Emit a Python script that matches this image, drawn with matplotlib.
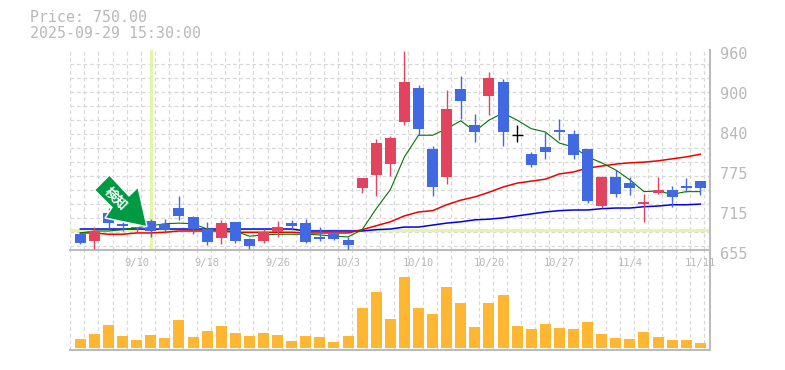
import matplotlib
matplotlib.use("Agg")
import matplotlib.pyplot as plt
from matplotlib.patches import Polygon
from matplotlib.transforms import ScaledTranslation, Affine2D

opens  = [680,669,712,695,688,699,695,719,705,687,673,698,672,669,682,696,696,675,679,670,750,769,786,850,902,809,766,901,846,890,911,830,801,812,838,832,809,722,766,757,725,742,747,753,760]
closes = [666,684,696,692,690,684,686,707,687,667,696,669,661,682,690,692,667,672,672,663,765,818,826,911,840,751,870,882,835,917,835,830,785,804,835,800,730,766,740,750,728,747,736,750,750]
highs  = [680,690,719,698,690,702,702,737,707,698,701,698,673,687,699,701,702,690,684,675,765,824,829,958,907,814,899,920,862,926,916,846,804,835,855,838,809,768,777,766,740,766,753,765,760]
lows   = [664,657,689,684,681,675,681,701,679,663,664,666,657,666,675,686,666,669,670,655,742,737,768,846,830,737,756,855,820,861,814,820,782,794,823,794,727,719,736,739,698,740,721,743,739]
ma_green = [681,684,684,686,689,692,695,696,695,687,684,684,676,678,679,679,679,678,676,675,686,718,747,797,830,830,840,852,836,853,864,853,840,835,818,812,797,788,777,762,744,745,740,744,744]
ma_red   = [681,681,679,679,681,681,682,684,684,684,684,682,682,682,682,682,681,681,681,681,686,692,698,707,713,715,724,731,736,743,751,757,760,763,771,774,780,783,786,788,789,791,794,797,801]
ma_blue  = [687,687,687,687,687,687,687,687,687,687,687,687,687,687,687,687,684,684,684,684,684,686,687,690,690,693,696,698,701,702,704,707,710,713,715,716,716,718,719,719,721,722,724,724,725]
volumes  = [27,42,69,36,24,39,30,84,33,51,66,45,36,45,39,21,36,33,18,36,120,168,87,213,120,102,183,135,63,135,159,66,57,72,60,57,78,42,30,27,48,33,24,24,15]
date_ticks = [4,9,14,19,24,29,34,39,44]
date_labels = ["9/10","9/18","9/26","10/3","10/10","10/20","10/27","11/4","11/11"]
price_ticks = [960,899,838,777,716,655]
price_labels = ["960","900","840","775","715","655"]
cross_index = 5
cross_price = 685
title_lines = ["Price: 750.00","2025-09-29 15:30:00"]

W, H = 785, 370
GRAY = "#b8b8b8"
GRID = "#d8d8d8"
BLUE = "#4169e1"
RED = "#e2435f"
plt.rcParams["font.family"] = ["DejaVu Sans Mono"]
fig = plt.figure(figsize=(W/100, H/100), dpi=100)
def rect(l, t, r, b):
    return [l/W, 1-b/H, (r-l)/W, (b-t)/H]
ax_v = fig.add_axes(rect(70,250,710,350))
ax = fig.add_axes(rect(70,50,710,250), sharex=ax_v)
ax.patch.set_visible(False)
step = 620/44
x0 = (70-80.33)/step
x1 = (710-80.33)/step
n = len(opens)
idx = list(range(n))
grid_x = [i+x0+0.02 for i in range(46) if i+x0+0.02 < x1]
per_px = 305/200
grid_y = [960-14*k*per_px for k in range(15)]

for a in (ax, ax_v):
    a.set_xticks(grid_x, minor=True)
    a.grid(True, which="minor", axis="x", color=GRID, ls=(0,(3,2.2)), lw=0.9)
    a.set_axisbelow(True)
    a.tick_params(which="both", length=0)
    for s in ("left","top"):
        a.spines[s].set_visible(False)
    for s in ("right","bottom"):
        a.spines[s].set_color("#bbbbbb")
        a.spines[s].set_linewidth(1.5)
ax.set_yticks(grid_y, minor=True)
ax.grid(True, which="minor", axis="y", color=GRID, ls=(0,(3,2.2)), lw=0.9)
ax.set_xlim(x0, x1)
ax.set_ylim(655, 960)

LIME = "#e4f5a8"
ax.axvline(cross_index, color=LIME, lw=2.2, zorder=1.5)
ax.axhline(cross_price, color=LIME, lw=2.2, zorder=1.5)
ax.plot(idx, ma_blue, color="#0000ee", lw=1.1, zorder=2)
ax.plot(idx, ma_red, color="#ee0000", lw=1.1, zorder=2.1)
ax.plot(idx, ma_green, color="#007700", lw=0.8, zorder=2.2)

for i in idx:
    o, c = opens[i], closes[i]
    col = RED if c > o else (BLUE if c < o else "black")
    ax.vlines(i, lows[i], highs[i], color=col, lw=1.0, zorder=3)
    if c == o:
        ax.hlines(c, i-0.39, i+0.39, color=col, lw=1.0, zorder=3)
    else:
        ax.bar(i, abs(c-o), bottom=min(o,c), width=0.78, color=col, lw=0, zorder=3.1)

ax_v.bar(idx, volumes, width=0.78, color="#ffb733", lw=0, zorder=3)
ax_v.set_ylim(-6, 294)
ax_v.set_yticks([])
plt.setp(ax_v.get_xticklabels(), visible=False)

ax.set_xticks(date_ticks, date_labels)
ax.tick_params(axis="x", which="major", labelbottom=True, pad=5.5, labelsize=7.5, labelcolor=GRAY)
ax.set_yticks(price_ticks, price_labels)
ax.yaxis.tick_right()
ax.tick_params(axis="y", which="major", pad=7, labelsize=11, labelcolor=GRAY, length=0)
off = ScaledTranslation(0, -3/100, fig.dpi_scale_trans)
for lab in ax.get_yticklabels():
    lab.set_transform(lab.get_transform()+off)

for k, t in enumerate(title_lines):
    fig.text(30/W, 1-(18+15*k)/H, t, color=GRAY, fontsize=10.7, va="center", ha="left")

# green pointer, in figure pixels
px = Affine2D().scale(1/W, -1/H).translate(0, 1) + fig.transFigure
shape = [(109.5,175),(94.5,190),(112,207.5),(105,218),(147,226.7),(138,187),(129,196)]
fig.add_artist(Polygon(shape, closed=True, transform=px, facecolor="#009944", edgecolor="white", lw=1.0, zorder=6))
fig.text(116/W, 1-199/H, "検知", rotation=-45, rotation_mode="anchor", color="white", fontsize=9.5,
         fontweight="bold", ha="center", va="center", family=["Noto Sans CJK JP","DejaVu Sans"], zorder=7)

fig.savefig("out.png", dpi=100)
